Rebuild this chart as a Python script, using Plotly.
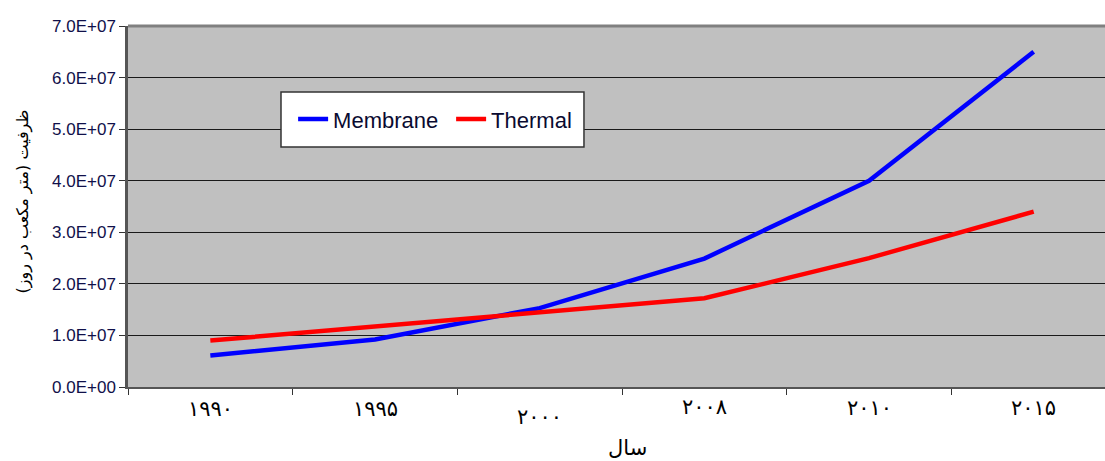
import plotly.graph_objects as go

# Capacity of desalination plants by technology (m3/day)
years = ["۱۹۹۰", "۱۹۹۵", "۲۰۰۰", "۲۰۰۸", "۲۰۱۰", "۲۰۱۵"]
membrane = [6.1e6, 9.2e6, 1.53e7, 2.49e7, 4.0e7, 6.5e7]
thermal = [9.0e6, 1.18e7, 1.45e7, 1.72e7, 2.5e7, 3.4e7]
y_ticks = [0, 1e7, 2e7, 3e7, 4e7, 5e7, 6e7, 7e7]
y_tick_text = ["0.0E+00", "1.0E+07", "2.0E+07", "3.0E+07", "4.0E+07",
               "5.0E+07", "6.0E+07", "7.0E+07"]

LATIN = "Liberation Sans, Arial, sans-serif"
ARABIC = "DejaVu Sans, sans-serif"

fig = go.Figure()
fig.add_trace(go.Scatter(x=list(range(len(years))), y=membrane, name="Membrane",
                         mode="lines", line=dict(color="#0000FF", width=4.5)))
fig.add_trace(go.Scatter(x=list(range(len(years))), y=thermal, name="Thermal",
                         mode="lines", line=dict(color="#FF0000", width=4.5)))

fig.update_layout(
    width=1105, height=461,
    margin=dict(l=128, r=0, t=26, b=74),
    paper_bgcolor="white",
    plot_bgcolor="#C0C0C0",
    font=dict(family=LATIN, color="#000000", size=14),
    showlegend=True,
    legend=dict(
        orientation="h",
        x=0.169, y=0.742, xanchor="left", yanchor="middle",
        bgcolor="rgba(0,0,0,0)", borderwidth=0,
        font=dict(size=22, family=LATIN, color="#0a0a30"),
        entrywidth=113, tracegroupgap=0,
    ),
    xaxis=dict(
        range=[-0.5, 5.433],
        tickmode="array",
        tickvals=[i + 0.5 for i in range(-1, len(years))],
        ticktext=[""] * (len(years) + 1),
        ticks="outside", ticklen=6, tickcolor="#333333", tickwidth=1.2,
        showgrid=False, zeroline=False,
        showline=True, linecolor="#555555", linewidth=2,
        fixedrange=True,
    ),
    yaxis=dict(
        range=[0, 7e7],
        tickmode="array", tickvals=y_ticks, ticktext=y_tick_text,
        ticks="outside", ticklen=6, tickcolor="#333333", tickwidth=1.2,
        tickfont=dict(size=17, family=LATIN, color="#10104a"),
        showgrid=True, gridcolor="#1a1a1a", gridwidth=1.3,
        zeroline=False,
        showline=True, linecolor="#555555", linewidth=2.5,
        fixedrange=True,
    ),
)

# White framed box behind the legend entries
fig.add_shape(type="rect", xref="paper", yref="paper",
              x0=0.1566, x1=0.4667, y0=0.6648, y1=0.8172,
              fillcolor="white", line=dict(color="#333333", width=1.5),
              layer="above")

# Category labels centred under each slot (slightly staggered baselines)
label_shift = [-22, -22, -30, -20, -21, -21]
for i, yr in enumerate(years):
    fig.add_annotation(x=i, y=0, xref="x", yref="paper", text=yr,
                       showarrow=False, yanchor="middle", yshift=label_shift[i],
                       font=dict(size=21, family=ARABIC, color="#000000"))

# Top frame line of the plot area
fig.add_shape(type="line", xref="paper", yref="paper", x0=0, x1=1, y0=1, y1=1,
              line=dict(color="#808080", width=3))

# Axis titles
fig.add_annotation(x=0.5, y=0, xref="paper", yref="paper", text="سال",
                   showarrow=False, yanchor="middle", yshift=-61, xshift=11,
                   font=dict(size=21, family=ARABIC, color="#000000"))
fig.add_annotation(x=0, y=0.5, xref="paper", yref="paper",
                   text="ظرفیت (متر مکعب در روز)", textangle=-90,
                   showarrow=False, xanchor="center", xshift=-106, yshift=5,
                   font=dict(size=16, family=ARABIC, color="#000000"))

fig.write_html("out.html")
